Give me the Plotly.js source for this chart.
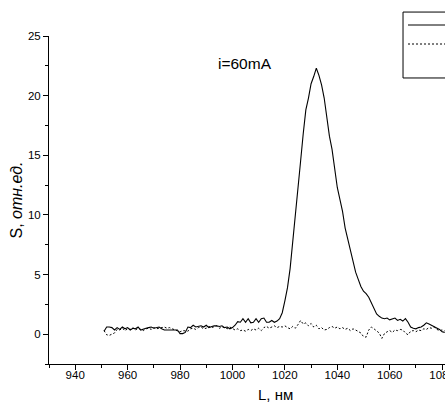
<!DOCTYPE html>
<html>
<head>
<meta charset="utf-8">
<script src="https://cdn.plot.ly/plotly-3.0.1.min.js"></script>
<style>html,body{margin:0;padding:0;background:#fff;}#chart{width:445px;height:403px;}</style>
</head>
<body>
<div id="chart"></div>
<script>
var wavelength = [951,952,953,954,955,956,957,958,959,960,961,962,963,964,965,966,967,968,969,970,971,972,973,974,975,976,977,978,979,980,981,982,983,984,985,986,987,988,989,990,991,992,993,994,995,996,997,998,999,1000,1001,1002,1003,1004,1005,1006,1007,1008,1009,1010,1011,1012,1013,1014,1015,1016,1017,1018,1019,1020,1021,1022,1023,1024,1025,1026,1027,1028,1029,1030,1031,1032,1033,1034,1035,1036,1037,1038,1039,1040,1041,1042,1043,1044,1045,1046,1047,1048,1049,1050,1051,1052,1053,1054,1055,1056,1057,1058,1059,1060,1061,1062,1063,1064,1065,1066,1067,1068,1069,1070,1071,1072,1073,1074,1075,1076,1077,1078,1079,1080,1081];

var signalSolid = [0.25,0.6,0.6,0.55,0.35,0.55,0.4,0.6,0.45,0.55,0.35,0.5,0.45,0.6,0.35,0.45,0.5,0.55,0.6,0.5,0.55,0.6,0.45,0.35,0.35,0.35,0.35,0.3,0.35,0.05,0.05,0.15,0.6,0.55,0.75,0.6,0.65,0.7,0.6,0.75,0.55,0.65,0.7,0.7,0.65,0.7,0.55,0.6,0.45,0.55,0.75,1.05,1.0,1.3,1.0,1.3,0.95,1.0,1.3,1.0,1.3,1.35,1.0,1.0,1.15,1.0,1.1,1.3,1.8,2.8,3.9,5.5,7.6,9.8,12.0,14.5,16.8,18.8,19.8,21.0,21.6,22.3,21.7,20.9,19.8,18.0,16.6,15.5,13.8,12.3,11.3,10.3,8.9,8.0,7.0,6.0,5.2,4.6,4.0,3.6,3.4,3.1,2.6,2.1,1.7,1.5,1.35,1.3,1.35,1.2,1.25,1.35,1.15,1.25,1.1,1.3,1.0,0.6,0.5,0.45,0.55,0.6,0.75,0.95,0.85,0.75,0.65,0.5,0.4,0.2,0.15];

var signalDotted = [0.3,-0.05,-0.1,0.0,0.1,0.4,0.35,0.5,0.3,0.45,0.4,0.55,0.35,0.5,0.4,0.3,0.45,0.5,0.4,0.55,0.45,0.5,0.55,0.6,0.5,0.55,0.45,0.35,0.3,0.2,0.3,0.3,0.25,0.45,0.5,0.4,0.55,0.6,0.45,0.5,0.65,0.55,0.6,0.7,0.5,0.6,0.55,0.45,0.6,0.5,0.35,0.45,0.3,0.35,0.25,0.4,0.3,0.45,0.35,0.5,0.3,0.55,0.65,0.5,0.6,0.7,0.55,0.65,0.6,0.7,0.55,0.45,0.65,0.5,0.8,1.15,0.85,0.95,0.7,0.9,0.6,0.75,0.45,0.55,0.35,0.4,0.55,0.65,0.5,0.6,0.45,0.55,0.4,0.5,0.3,0.45,0.35,0.25,0.1,-0.2,-0.25,0.35,0.6,0.45,0.3,0.1,-0.35,0.05,0.2,0.3,0.15,0.35,0.3,0.4,0.35,0.1,-0.05,0.25,0.3,0.2,0.35,0.3,0.45,0.4,0.55,0.5,0.6,0.4,0.3,0.35,0.3];

var xTickVals = [940,960,980,1000,1020,1040,1060,1080];
var yTickVals = [0,5,10,15,20,25];
var labelText = 'i=60mA';
var xTitle = 'L, нм';
var yTitle = 'S, <i>отн.ед.</i>';

var font = 'Liberation Sans, Arial, sans-serif';

var traces = [
  {x: wavelength, y: signalSolid, type: 'scatter', mode: 'lines',
   line: {color: '#000', width: 1.1}, name: 'solid', showlegend: false},
  {x: wavelength, y: signalDotted, type: 'scatter', mode: 'lines',
   line: {color: '#000', width: 1, dash: '2px,2px'}, name: 'dotted', showlegend: false}
];

var layout = {
  width: 445, height: 403,
  margin: {l: 49, r: 0, t: 36, b: 39},
  paper_bgcolor: '#fff', plot_bgcolor: '#fff',
  font: {family: font, color: '#000', size: 11.5},
  xaxis: {
    range: [930, 1081.1], tickvals: xTickVals, ticks: 'outside', ticklen: 5, tickwidth: 1,
    tickcolor: '#000', showline: true, linecolor: '#000', linewidth: 1, showgrid: false, zeroline: false,
    minor: {ticks: 'outside', ticklen: 3, tickcolor: '#000', dtick: 10, tick0: 930, showgrid: false},
    tickfont: {size: 11.5}, ticklabeloverflow: 'allow', ticklabelstandoff: -5
  },
  yaxis: {
    range: [-2.5, 25], tickvals: yTickVals, ticks: 'outside', ticklen: 5, tickwidth: 1,
    tickcolor: '#000', showline: true, linecolor: '#000', linewidth: 1, showgrid: false, zeroline: false,
    minor: {ticks: 'outside', ticklen: 3, tickcolor: '#000', dtick: 2.5, tick0: 0, showgrid: false},
    tickfont: {size: 11.5},
    title: {text: yTitle, font: {size: 16}, standoff: 1}
  },
  annotations: [
    {x: 1004.6, y: 22.7, xref: 'x', yref: 'y', text: labelText, showarrow: false,
     font: {size: 15.5, family: font, color: '#000'}},
    {x: 0.573, y: -0.062, xref: 'paper', yref: 'paper', yanchor: 'top', text: xTitle, showarrow: false,
     font: {size: 15, family: font, color: '#000'}}
  ],
  shapes: [
    {type: 'rect', xref: 'paper', yref: 'paper', x0: 0.894, x1: 1.05, y0: 0.872, y1: 1.073,
     line: {color: '#000', width: 1}, fillcolor: '#fff'},
    {type: 'line', xref: 'paper', yref: 'paper', x0: 0.9066, x1: 1.05, y0: 1.0335, y1: 1.0335,
     line: {color: '#000', width: 1}},
    {type: 'line', xref: 'paper', yref: 'paper', x0: 0.9066, x1: 1.05, y0: 0.9756, y1: 0.9756,
     line: {color: '#000', width: 1, dash: '2px,2px'}}
  ],
  showlegend: false
};

Plotly.newPlot('chart', traces, layout, {displayModeBar: false, staticPlot: true});
</script>
</body>
</html>
